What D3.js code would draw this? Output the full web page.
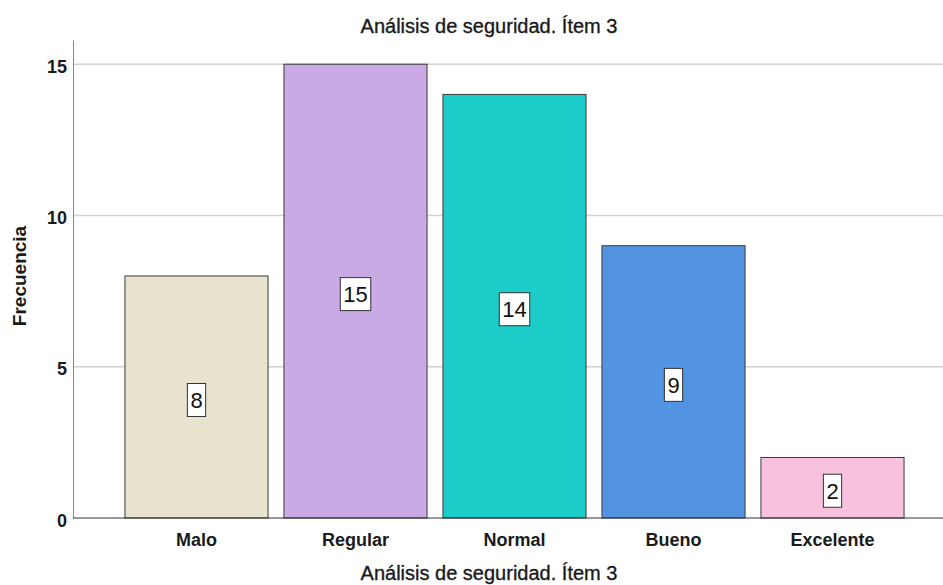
<!DOCTYPE html>
<html>
<head>
<meta charset="utf-8">
<script src="https://cdn.jsdelivr.net/npm/d3@7"></script>
<style>
  html, body { margin: 0; padding: 0; background: #fff; }
  svg { display: block; font-family: "Liberation Sans", Arial, sans-serif; }
</style>
</head>
<body>
<svg id="chart" width="943" height="585"></svg>
<script>
// Frequency of answers for item 3 of the security analysis
const categories = ["Malo", "Regular", "Normal", "Bueno", "Excelente"];
const counts = [8, 15, 14, 9, 2];
const barColors = ["#e8e3cf", "#c9aae4", "#1ccdca", "#5394e2", "#f8c1de"];
const yTicks = [0, 5, 10, 15];
const chartTitle = "Análisis de seguridad. Ítem 3";
const xTitle = "Análisis de seguridad. Ítem 3";
const yTitle = "Frecuencia";

const svg = d3.select("#chart");

const axisLeft = 73, axisRight = 943, axisTop = 40, axisBottom = 518;

const y = d3.scaleLinear().domain([0, 15.8]).range([axisBottom, axisTop]);
const x = d3.scaleBand()
  .domain(categories)
  .range([117, 912])
  .paddingInner(0.1)
  .paddingOuter(0.05);

// horizontal gridlines
svg.append("g")
  .selectAll("line")
  .data(yTicks.filter(t => t > 0))
  .join("line")
  .attr("x1", axisLeft).attr("x2", axisRight)
  .attr("y1", d => y(d)).attr("y2", d => y(d))
  .attr("stroke", "#d2d2d2").attr("stroke-width", 1.5);

// bars
svg.append("g")
  .selectAll("rect")
  .data(counts)
  .join("rect")
  .attr("x", (d, i) => x(categories[i]))
  .attr("y", d => y(d))
  .attr("width", x.bandwidth())
  .attr("height", d => y(0) - y(d))
  .attr("fill", (d, i) => barColors[i])
  .attr("stroke", "#3a3a3a")
  .attr("stroke-width", 1);

// y axis
const yAxis = d3.axisLeft(y).tickValues(yTicks).tickSize(0).tickPadding(6).tickFormat(d3.format("d"));
const gy = svg.append("g").attr("transform", `translate(${axisLeft},0)`).call(yAxis);
gy.select(".domain").attr("stroke", "#888").attr("stroke-width", 1);
gy.selectAll("text")
  .attr("font-size", 18).attr("font-weight", "bold").attr("fill", "#1a1a1a")
  .attr("dy", "0.45em")
  .attr("font-family", "Liberation Sans, Arial, sans-serif");

// x axis baseline and category labels
svg.append("line")
  .attr("x1", axisLeft).attr("x2", axisRight)
  .attr("y1", axisBottom).attr("y2", axisBottom)
  .attr("stroke", "#333").attr("stroke-width", 1.2);

const xAxis = d3.axisBottom(x).tickSize(0).tickPadding(0);
const gx = svg.append("g").attr("transform", `translate(0,${axisBottom})`).call(xAxis);
gx.select(".domain").remove();
gx.selectAll("text")
  .attr("y", 28).attr("dy", null)
  .attr("font-size", 18).attr("font-weight", "bold").attr("fill", "#1a1a1a")
  .attr("font-family", "Liberation Sans, Arial, sans-serif");

// value labels in boxes
const labels = svg.append("g")
  .selectAll("g")
  .data(counts)
  .join("g")
  .attr("transform", (d, i) => `translate(${x(categories[i]) + x.bandwidth() / 2},${(y(d) + y(0)) / 2 + 3})`);

labels.append("text")
  .attr("text-anchor", "middle")
  .attr("dy", "0.36em")
  .attr("font-size", 22)
  .attr("fill", "#111")
  .text(d => d)
  .each(function () {
    const b = this.getBBox();
    d3.select(this.parentNode).insert("rect", "text")
      .attr("x", b.x - 3).attr("y", -16.5)
      .attr("width", b.width + 6).attr("height", 33)
      .attr("fill", "#fff").attr("stroke", "#333").attr("stroke-width", 1);
  });

// titles
svg.append("text")
  .attr("x", 489).attr("y", 33)
  .attr("text-anchor", "middle")
  .attr("font-size", 20).attr("fill", "#1a1a1a")
  .attr("stroke", "#1a1a1a").attr("stroke-width", 0.35)
  .text(chartTitle);

svg.append("text")
  .attr("x", 489).attr("y", 580)
  .attr("text-anchor", "middle")
  .attr("font-size", 20).attr("fill", "#1a1a1a")
  .attr("stroke", "#1a1a1a").attr("stroke-width", 0.35)
  .text(xTitle);

svg.append("text")
  .attr("transform", "translate(26,276) rotate(-90)")
  .attr("text-anchor", "middle")
  .attr("font-size", 19).attr("fill", "#1a1a1a")
  .attr("font-weight", "bold")
  .text(yTitle);
</script>
</body>
</html>
